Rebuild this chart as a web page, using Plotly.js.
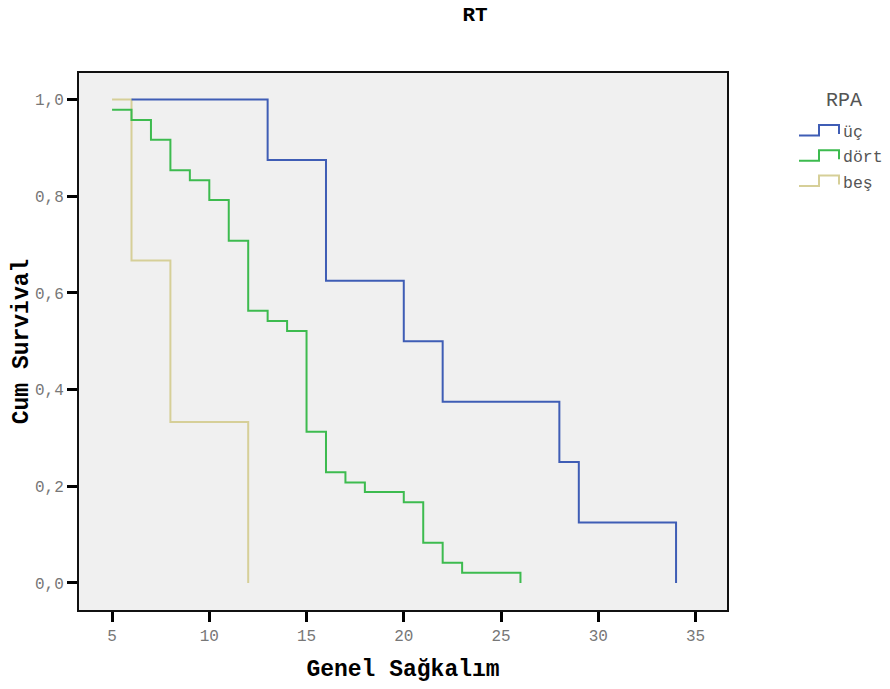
<!DOCTYPE html>
<html>
<head>
<meta charset="utf-8">
<script src="https://cdn.plot.ly/plotly-3.0.1.min.js"></script>
<style>
  html, body { margin: 0; padding: 0; background: #ffffff; }
  #chart { width: 890px; height: 689px; }
</style>
</head>
<body>
<div id="chart"></div>
<script>
// Kaplan-Meier survival by RPA class: step times and cumulative survival
const seriesNames = ['üç', 'dört', 'beş'];

const ucTime = [6, 13, 16, 20, 22, 28, 29, 34];
const ucSurv = [1.0, 0.875, 0.625, 0.5, 0.375, 0.25, 0.125, 0.0];

const dortTime = [5, 6, 7, 8, 9, 10, 11, 12, 13, 14, 15, 16, 17, 18, 20, 21, 22, 23, 26];
const dortSurv = [0.979, 0.958, 0.917, 0.854, 0.833, 0.792, 0.708, 0.563, 0.542, 0.521,
                  0.313, 0.229, 0.208, 0.188, 0.167, 0.083, 0.042, 0.021, 0.0];

const besTime = [5, 6, 8, 12];
const besSurv = [1.0, 0.667, 0.333, 0.0];

const xTicks = [5, 10, 15, 20, 25, 30, 35];
const yTicks = [0, 0.2, 0.4, 0.6, 0.8, 1.0];

const colors = ['#3f5db5', '#3dbb4f', '#d6cf98'];
const mono = 'Liberation Mono, Courier New, monospace';

const times = [ucTime, dortTime, besTime];
const survs = [ucSurv, dortSurv, besSurv];

// draw order: beş underneath, then dört, üç on top
const order = [2, 1, 0];
const traces = order.map(i => ({
  type: 'scatter',
  mode: 'lines',
  name: seriesNames[i],
  x: times[i],
  y: survs[i],
  line: { shape: 'hv', color: colors[i], width: 2 },
  showlegend: false,
  hoverinfo: 'x+y+name'
}));

// plot area in pixels
const L = 79, R = 727, T = 73, B = 610;
const px = v => (v - L) / (R - L);
const py = v => (B - v) / (B - T);

// step-shaped legend glyphs with labels
const shapes = [];
const annotations = [];
seriesNames.forEach((name, i) => {
  const yLow = 135.5 + i * 25.3;
  const yHigh = yLow - 10.5;
  const path = 'M ' + px(799) + ' ' + py(yLow) +
               ' L ' + px(819) + ' ' + py(yLow) +
               ' L ' + px(819) + ' ' + py(yHigh) +
               ' L ' + px(839) + ' ' + py(yHigh) +
               ' L ' + px(839) + ' ' + py(yHigh + 9);
  shapes.push({
    type: 'path', xref: 'paper', yref: 'paper', path: path,
    line: { color: colors[i], width: 2 }
  });
  annotations.push({
    xref: 'paper', yref: 'paper', x: px(841), y: py(yLow - 3),
    xanchor: 'left', yanchor: 'middle', showarrow: false,
    text: name, font: { family: mono, size: 16.5, color: '#555555' }
  });
});
annotations.push({
  xref: 'paper', yref: 'paper', x: px(844), y: py(100),
  xanchor: 'center', yanchor: 'middle', showarrow: false,
  text: 'RPA', font: { family: mono, size: 20, color: '#555555' }
});

const layout = {
  width: 890,
  height: 689,
  margin: { l: L, r: 890 - R, t: T, b: 689 - B },
  paper_bgcolor: '#ffffff',
  plot_bgcolor: '#f0f0f0',
  separators: ',.',
  showlegend: false,
  title: {
    text: '<b>RT</b>',
    x: 475 / 890, xref: 'container', xanchor: 'center',
    y: 1 - 13.5 / 689, yref: 'container', yanchor: 'middle',
    font: { family: mono, size: 21, color: '#000000' }
  },
  xaxis: {
    range: [3.3, 36.62],
    tickvals: xTicks,
    ticktext: xTicks.map(String),
    ticks: 'outside', ticklen: 10, tickwidth: 3, tickcolor: '#000000',
    showline: true, mirror: true, linecolor: '#111111', linewidth: 2,
    showgrid: false, zeroline: false,
    tickfont: { family: mono, size: 16, color: '#777777' },
    title: {
      text: '<b>Genel Sağkalım</b>', standoff: 15,
      font: { family: mono, size: 23, color: '#000000' }
    }
  },
  yaxis: {
    range: [-0.056, 1.055],
    tickvals: yTicks,
    tickformat: '.1f',
    ticks: 'outside', ticklen: 10, tickwidth: 3, tickcolor: '#000000',
    showline: true, mirror: true, linecolor: '#111111', linewidth: 2,
    showgrid: false, zeroline: false,
    tickfont: { family: mono, size: 16, color: '#777777' },
    title: {
      text: '<b>Cum Survival</b>', standoff: 0,
      font: { family: mono, size: 23, color: '#000000' }
    }
  },
  shapes: shapes,
  annotations: annotations
};

Plotly.newPlot('chart', traces, layout, { displayModeBar: false, staticPlot: true });
</script>
</body>
</html>
